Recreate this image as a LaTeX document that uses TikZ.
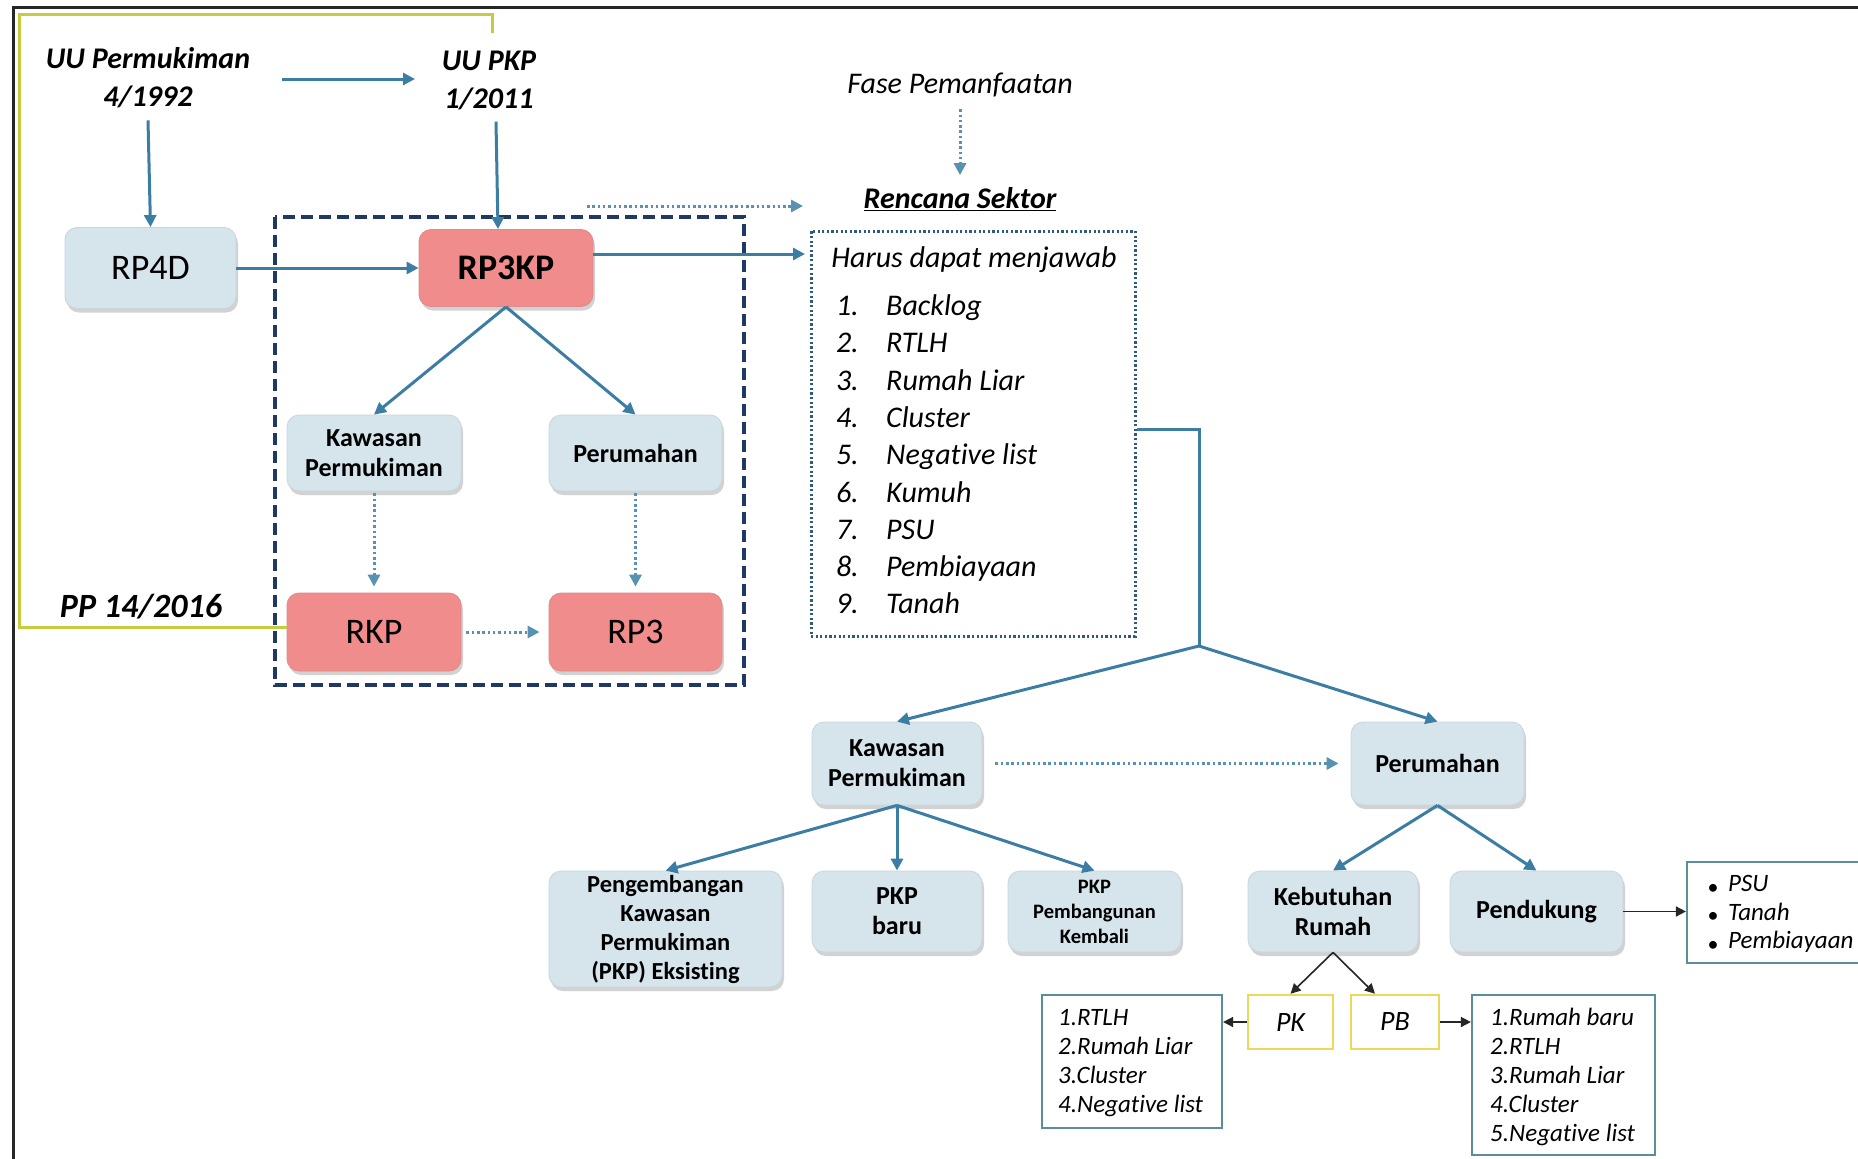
\documentclass[tikz,border=0pt]{standalone}
\usepackage{fontspec}
\setmainfont{Carlito}[Ligatures=NoCommon]
\usetikzlibrary{arrows.meta,shadows,calc}
\newcommand\myfs[2]{\fontsize{#1}{#2}\selectfont}
\definecolor{boxblue}{HTML}{D6E4EC}
\definecolor{boxred}{HTML}{F08C8C}
\definecolor{arrblue}{HTML}{3C7EA3}
\definecolor{navyc}{HTML}{1F3864}
\definecolor{olivec}{HTML}{C5CC3F}
\definecolor{pkyellow}{HTML}{EBD95A}
\definecolor{tealgray}{HTML}{5B8E9C}
\definecolor{dotblue}{HTML}{2F5A7A}
\tikzset{
  bluebox/.style={rounded corners=12pt, fill=boxblue, draw=boxblue!85!gray, line width=0.8pt,
    drop shadow={shadow xshift=2pt, shadow yshift=-4pt, opacity=0.35},
    align=center, inner sep=2pt, font=\bfseries\myfs{26}{30}},
  redbox/.style={rounded corners=12pt, fill=boxred, draw=boxred!85!gray, line width=0.8pt,
    drop shadow={shadow xshift=2pt, shadow yshift=-4pt, opacity=0.35},
    align=center, inner sep=2pt, font=\myfs{36}{40}, minimum width=174pt, minimum height=78pt},
  arr/.style={draw=arrblue, line width=3pt, -{Triangle[length=12pt,width=12pt]}},
  arrline/.style={draw=arrblue, line width=3pt},
  dotarr/.style={draw=arrblue!85!white, line width=3pt, dash pattern=on 2.5pt off 2.8pt, -{Triangle[length=12pt,width=12pt]}},
  blkarr/.style={draw=black!85, line width=1.6pt, -{Triangle[length=10pt,width=10pt]}},
  titletxt/.style={font=\bfseries\itshape\myfs{30}{38}, align=center, inner sep=0pt},
  itxt/.style={font=\itshape\myfs{30}{36}, inner sep=0pt, text height=0.72em, text depth=0.22em},
  ltxt/.style={font=\itshape\myfs{25}{29}, inner sep=0pt, text height=0.72em, text depth=0.22em},
  listbox/.style={draw=tealgray, line width=2.2pt, fill=white},
  ybox/.style={draw=pkyellow, line width=2.5pt, fill=white, font=\itshape\myfs{28}{32}, minimum height=54pt},
}
\begin{document}
\begin{tikzpicture}[x=1pt,y=-1pt]
\useasboundingbox (0,0) rectangle (1858,1159);
\fill[white] (0,0) rectangle (1858,1159);
% frame
\draw[line width=3pt, black!85] (13,1162) -- (13,7) -- (1862,7);

% top texts
\node[titletxt] (uup) at (148,78) {UU Permukiman\\4/1992};
\node[titletxt] (uupkp) at (489,80) {UU PKP\\1/2011};
\node[font=\itshape\myfs{30}{36}, inner sep=0pt] (fase) at (960,85) {Fase Pemanfaatan};
\node[font=\bfseries\itshape\myfs{30}{36}, inner sep=0pt] (rencana) at (960,199) {\underline{Rencana Sektor}};
\node[font=\bfseries\itshape\myfs{34}{38}, inner sep=0pt] (pp) at (141,607) {PP 14/2016};

% dashed frame
\draw[navyc, line width=4pt, dash pattern=on 12pt off 6pt] (275,217) rectangle (744,685);

% upper boxes
\node[bluebox, minimum width=171pt, minimum height=81pt, font=\myfs{36}{40}] (rp4d) at (150.5,268) {RP4D};
\node[redbox, font=\bfseries\myfs{36}{40}, minimum height=77pt] (rp3kp) at (506,268) {RP3KP};
\node[bluebox, minimum width=174pt, minimum height=76pt] (kpi) at (374,453) {Kawasan\\Permukiman};
\node[bluebox, minimum width=173pt, minimum height=76pt] (peri) at (635.5,453) {Perumahan};
\node[redbox] (rkp) at (374,632) {RKP};
\node[redbox, minimum width=173pt] (rp3) at (635.5,632) {RP3};

% olive line
\coordinate (olb) at (19,627);
\draw[olivec, line width=3pt] (rkp.west |- olb) -- (olb) -- (19,14) -- (492,14) -- (492,33);

% Harus box
\node[draw=dotblue, line width=3pt, dash pattern=on 2.2pt off 2.4pt, minimum width=324pt, minimum height=405pt] (harus) at (973,433.5) {};
\node[itxt] (hjt) at (974,265) {Harus dapat menjawab};
\foreach \t [count=\i] in {Backlog,RTLH,Rumah Liar,Cluster,Negative list,Kumuh,PSU,Pembiayaan,Tanah} {
  \node[itxt, anchor=east] (hn\i) at (859,{313+37.3*(\i-1)}) {\i.};
  \node[itxt, anchor=west] (hi\i) at (886,{313+37.3*(\i-1)}) {\t};
}

% lower tree
\node[bluebox, minimum width=170pt, minimum height=83pt] (kpl) at (897,763.5) {Kawasan\\Permukiman};
\node[bluebox, minimum width=173pt, minimum height=83pt] (perl) at (1437.5,763.5) {Perumahan};
\node[bluebox, minimum width=233pt, minimum height=116pt, font=\bfseries\myfs{24.5}{29}] (peng) at (665.5,929) {Pengembangan\\Kawasan\\Permukiman\\(PKP) Eksisting};
\node[bluebox, minimum width=170pt, minimum height=81pt] (pkpb) at (897,911.5) {PKP\\baru};
\node[bluebox, minimum width=173pt, minimum height=81pt, font=\bfseries\myfs{20.5}{25}] (pkpk) at (1094.5,911.5) {PKP\\Pembangunan\\Kembali};
\node[bluebox, minimum width=170pt, minimum height=81pt] (keb) at (1333,911.5) {Kebutuhan\\Rumah};
\node[bluebox, minimum width=173pt, minimum height=81pt] (pend) at (1536.5,911.5) {Pendukung};

\node[listbox, minimum width=183pt, minimum height=101pt] (psu) at (1778.5,912.5) {};
\foreach \t [count=\i] in {PSU,Tanah,Pembiayaan} {
  \node[font=\myfs{22}{24}, inner sep=0pt] (psub\i) at (1713,{889+28.5*(\i-1)}) {\textbullet};
  \node[ltxt, anchor=west] (psui\i) at (1728,{889+28.5*(\i-1)}) {\t};
}

\node[ybox, minimum width=85pt] (pk) at (1290.5,1022) {PK};
\node[ybox, minimum width=88pt] (pb) at (1395,1022) {PB};
\node[listbox, minimum width=180pt, minimum height=133pt] (lbox) at (1132,1061.5) {};
\node[listbox, minimum width=183pt, minimum height=160pt] (rbox) at (1563.5,1075) {};
\foreach \t [count=\i] in {1.RTLH,2.Rumah Liar,3.Cluster,4.Negative list} {
  \node[ltxt, anchor=west] (lt\i) at (1058,{1023+29*(\i-1)}) {\t};
}
\foreach \t [count=\i] in {1.Rumah baru,2.RTLH,3.Rumah Liar,4.Cluster,5.Negative list} {
  \node[ltxt, anchor=west] (rt\i) at (1490,{1023+29*(\i-1)}) {\t};
}

% coordinates for free ends
\coordinate (a1s) at (282,79);
\coordinate (a1e) at (415,79);
\coordinate (d1s) at (587,206);
\coordinate (d1e) at (803,206);
\coordinate (hin) at (811,254);
\coordinate (hj) at (1199,429);
\coordinate (split) at (1199,646);

% connectors top
\draw[arr] (a1s) -- (a1e);
\draw[arr] ($(uup.south)+(0,12)$) -- (rp4d.north);
\draw[arr] ($(uupkp.south)+(7,12)$) -- ($(rp3kp.north)+(-8,0)$);
\draw[arr] (rp4d.east) -- (rp3kp.west);
\draw[arr] (rp3kp.east |- hin) -- ($(hin)+(-6,0)$);
\draw[dotarr] (d1s) -- (d1e);
\draw[dotarr] ($(fase.south)+(0,12)$) -- ($(rencana.north)+(0,-12)$);
\draw[arr] (rp3kp.south) -- (kpi.north);
\draw[arr] (rp3kp.south) -- (peri.north);
\draw[dotarr, shorten <=2pt, shorten >=6pt] (kpi.south) -- (rkp.north);
\draw[dotarr, shorten <=2pt, shorten >=6pt] (peri.south) -- (rp3.north);
\draw[dotarr, shorten <=5pt, shorten >=9pt] (rkp.east) -- (rp3.west);

% tree connectors
\draw[arrline] (harus.east |- hj) -- (hj) -- (split);
\draw[arr] (split) -- (kpl.north);
\draw[arr] (split) -- (perl.north);
\draw[dotarr, shorten <=13pt, shorten >=12pt] (kpl.east) -- (perl.west);
\draw[arr] (kpl.south) -- (peng.north);
\draw[arr] (kpl.south) -- (pkpb.north);
\draw[arr] (kpl.south) -- (pkpk.north);
\draw[arr] (perl.south) -- (keb.north);
\draw[arr] (perl.south) -- (pend.north);
\draw[blkarr] (pend.east) -- (psu.west |- pend.east);
\draw[blkarr] (keb.south) -- (pk.north);
\draw[blkarr] (keb.south) -- ($(pb.north)+(-20,0)$);
\draw[blkarr] (pk.west) -- (lbox.east |- pk.west);
\draw[blkarr] (pb.east) -- (rbox.west |- pb.east);
\end{tikzpicture}
\end{document}
